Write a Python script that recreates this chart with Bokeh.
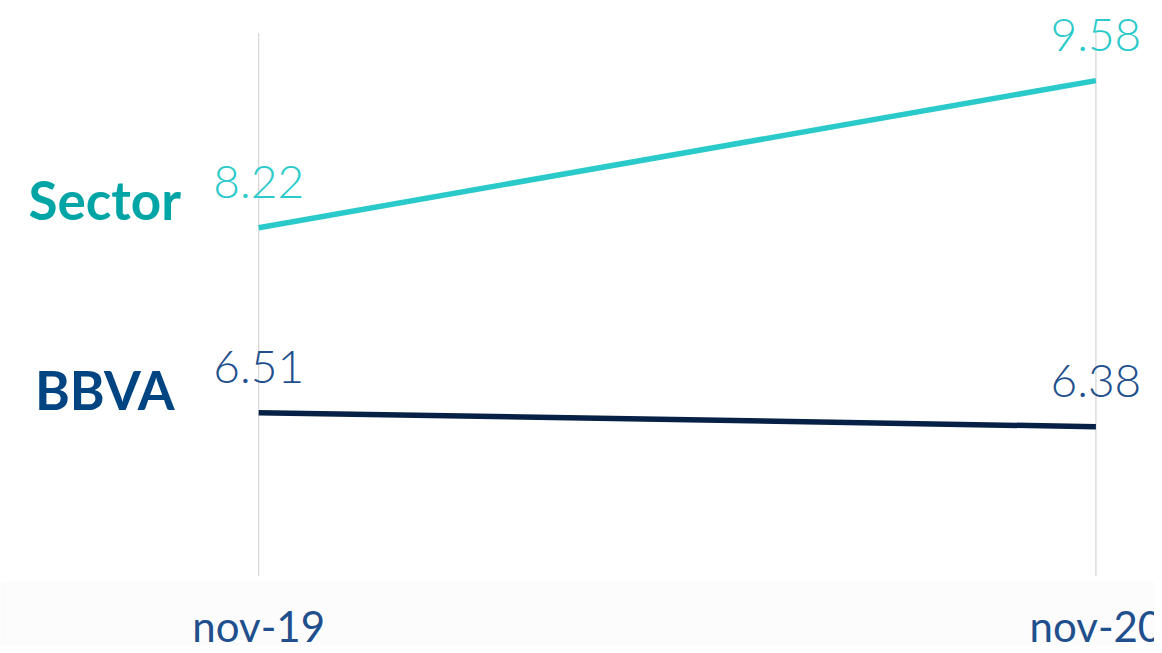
from bokeh.plotting import figure
from bokeh.models import Range1d
from bokeh.core.properties import value
from bokeh.embed import file_html
from bokeh.resources import INLINE

periods = ["nov-19", "nov-20"]
x_pos = [0, 1]
sector = [8.22, 9.58]
bbva = [6.51, 6.38]
series_names = ["Sector", "BBVA"]

TEAL_LINE = "#2bcaca"
TEAL_LABEL = "#02a5a5"
NAVY_LINE = "#072146"
BLUE_LABEL = "#004481"
BLUE_VAL = "#1f4f8c"

X0, X1 = -0.3084, 1.0700
Y0, Y1 = 4.357, 10.3205

p = figure(width=1154, height=645, output_backend="svg", toolbar_location=None,
           x_range=Range1d(X0, X1), y_range=Range1d(Y0, Y1),
           min_border=0, min_border_left=0, min_border_right=0,
           min_border_top=0, min_border_bottom=0)
p.axis.visible = False
p.grid.visible = False
p.outline_line_color = None
p.background_fill_color = "white"
p.border_fill_color = "white"

# bottom band
p.quad(left=X0, right=X1, bottom=Y0, top=4.95, fill_color="#fcfcfc", line_color=None)

# vertical grid lines
p.segment(x0=x_pos, x1=x_pos, y0=[5.0]*2, y1=[10.02]*2, line_color="#d9d9d9", line_width=1.3)

p.line(x_pos, sector, line_color=TEAL_LINE, line_width=5.5)
p.line(x_pos, bbva, line_color=NAVY_LINE, line_width=5.5)

light_font = value("Lato Light")
p.text(x=x_pos, y=sector, text=[f"{v:.2f}" for v in sector], text_align="center",
       text_baseline="alphabetic", y_offset=-46, text_font=light_font,
       text_font_size="46px", text_color=TEAL_LINE)
p.text(x=x_pos, y=bbva, text=[f"{v:.2f}" for v in bbva], text_align="center",
       text_baseline="alphabetic", y_offset=-46, text_font=light_font,
       text_font_size="46px", text_color=BLUE_VAL)

# series names
p.text(x=[-0.1839], y=[sector[0]], text=[series_names[0]], text_align="center",
       text_baseline="alphabetic", y_offset=-28, text_font=value("Lato"),
       text_font_style="bold", text_font_size="53px", text_color=TEAL_LABEL)
p.text(x=[-0.1839], y=[bbva[0]], text=[series_names[1]], text_align="center",
       text_baseline="alphabetic", y_offset=-23, text_font=value("Lato"),
       text_font_style="bold", text_font_size="53px", text_color=BLUE_LABEL)

# x labels
p.text(x=x_pos, y=[Y0]*2, text=periods, text_align="center",
       text_baseline="alphabetic", y_offset=-20, text_font=value("Lato"),
       text_font_size="42px", text_color=BLUE_VAL)

open("out.html", "w").write(file_html(p, INLINE))
